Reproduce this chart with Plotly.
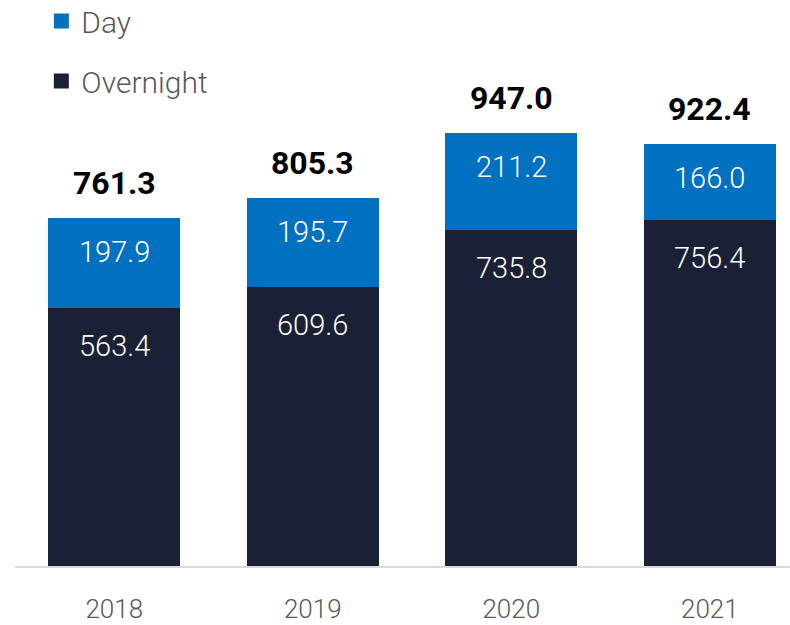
import plotly.graph_objects as go

years = ["2018", "2019", "2020", "2021"]
overnight = [563.4, 609.6, 735.8, 756.4]
day = [197.9, 195.7, 211.2, 166.0]
totals = [761.3, 805.3, 947.0, 922.4]

C_NIGHT = "#1a2035"
C_DAY = "#0070c0"
FONT = "Roboto"

fig = go.Figure()
fig.add_trace(go.Bar(name="Overnight", x=years, y=overnight, marker_color=C_NIGHT,
                     marker_line_width=0, width=0.665, showlegend=False))
fig.add_trace(go.Bar(name="Day", x=years, y=day, marker_color=C_DAY,
                     marker_line_width=0, width=0.665, showlegend=False))
# legend entries with larger square swatches
fig.add_trace(go.Scatter(name="Day", x=[None], y=[None], mode="markers",
                         marker=dict(symbol="square", size=15, color=C_DAY),
                         legendgroup="d", legendrank=1))
fig.add_trace(go.Scatter(name="Overnight", x=[None], y=[None], mode="markers",
                         marker=dict(symbol="square", size=15, color=C_NIGHT),
                         legendgroup="o", legendrank=2))

ann = []
for i, yr in enumerate(years):
    ann.append(dict(x=i, y=overnight[i], xref="x", yref="y", text=f"{overnight[i]:.1f}",
                    showarrow=False, yanchor="middle", yshift=-38,
                    font=dict(family=FONT, size=29, color="white", weight=300)))
    ann.append(dict(x=i, y=overnight[i] + day[i], xref="x", yref="y", text=f"{day[i]:.1f}",
                    showarrow=False, yanchor="middle", yshift=-34,
                    font=dict(family=FONT, size=29, color="white", weight=300)))
    ann.append(dict(x=i, y=totals[i], xref="x", yref="y", text=f"{totals[i]:.1f}",
                    showarrow=False, yanchor="middle", yshift=35,
                    font=dict(family=FONT, size=32, color="black", weight=700)))

fig.update_layout(
    barmode="stack",
    width=790, height=625,
    margin=dict(l=15, r=0, t=0, b=59, autoexpand=False),
    plot_bgcolor="white", paper_bgcolor="white",
    annotations=ann,
    showlegend=True,
    legend=dict(x=0.034, y=1.009, xanchor="left", yanchor="top",
                traceorder="grouped", tracegroupgap=18,
                font=dict(family=FONT, size=30, color="#595959", weight=300),
                bgcolor="rgba(0,0,0,0)", itemwidth=30),
    xaxis=dict(type="category", range=[-0.5, 3.404], showgrid=False, showline=True,
               linecolor="#d9d9d9", linewidth=2, ticks="", automargin=False,
               ticklabelstandoff=19,
               tickfont=dict(family=FONT, size=26, color="#595959", weight=300)),
    yaxis=dict(range=[0, 1238], visible=False, showgrid=False, automargin=False),
)

fig.write_html("out.html", config={"displayModeBar": False},
               post_script="document.body.style.margin='0';")
